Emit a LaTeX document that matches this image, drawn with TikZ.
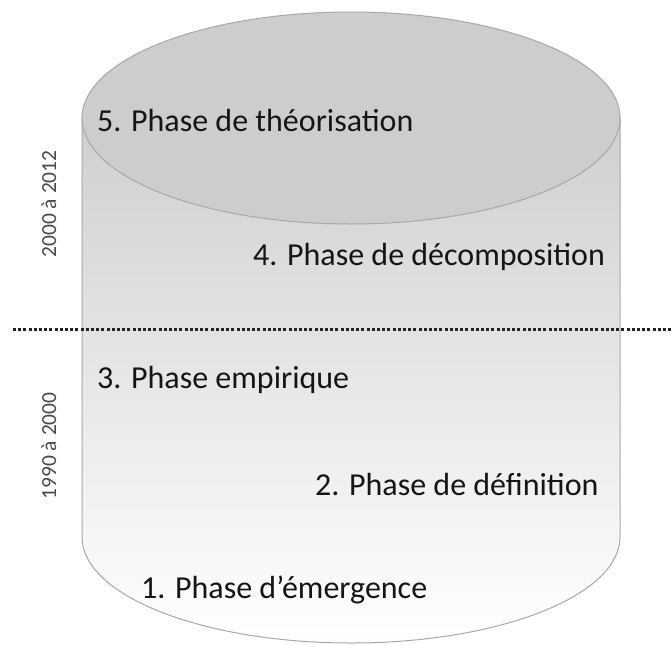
\documentclass[tikz,border=0pt]{standalone}
\usepackage{fontspec}
\setmainfont{Carlito}
\definecolor{cyledge}{HTML}{A8A8A8}
\definecolor{cyltop}{HTML}{CFCFCF}
\definecolor{ellfill}{HTML}{CDCDCD}
\definecolor{txt}{HTML}{151515}
\definecolor{yeartxt}{HTML}{4A4A4A}
\definecolor{dotline}{HTML}{222222}
\tikzset{
  phase/.style={anchor=base west, inner sep=0pt, text=txt, font=\fontsize{32}{36}\selectfont},
  yearlbl/.style={anchor=base, inner sep=0pt, text=yeartxt, rotate=90, font=\fontsize{21.5}{24}\selectfont},
  sep/.style={draw=dotline, line width=3pt, dash pattern=on 3pt off 2.2pt}
}
\begin{document}
\begin{tikzpicture}[x=1pt,y=-1pt]
\useasboundingbox (0,0) rectangle (672,645);
% cylinder body
\path[top color=cyltop, bottom color=white, draw=cyledge, line width=1pt]
  (82,118) -- (82,537) arc[start angle=180, end angle=0, x radius=269, y radius=106] -- (620,118) -- cycle;
% top ellipse
\path[fill=ellfill, draw=cyledge, line width=1pt] (351,118) ellipse[x radius=269, y radius=106];
% separator
\coordinate (sepL) at (13,329);
\coordinate (sepR) at (672,329);
\draw[sep] (sepL) -- (sepR);
% phase labels
\node[phase] (p5) at (97,131) {5. Phase de théorisation};
\node[phase] (p4) at (253,265) {4. Phase de décomposition};
\node[phase] (p3) at (97,388) {3. Phase empirique};
\node[phase] (p2) at (315,495) {2. Phase de définition};
\node[phase] (p1) at (141,598) {1. Phase d’émergence};
% period labels
\node[yearlbl] (y2) at (56,204) {2000 à 2012};
\node[yearlbl] (y1) at (56,446) {1990 à 2000};
\end{tikzpicture}
\end{document}
